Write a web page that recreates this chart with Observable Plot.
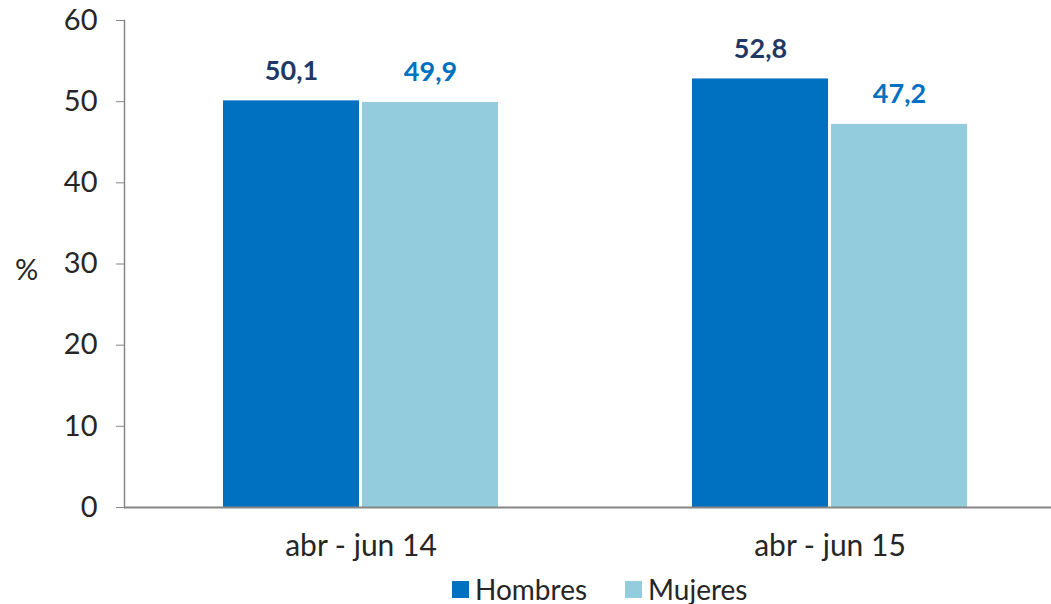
<!DOCTYPE html>
<html>
<head>
<meta charset="utf-8">
<script src="https://cdn.jsdelivr.net/npm/d3@7"></script>
<script src="https://cdn.jsdelivr.net/npm/@observablehq/plot@0.6"></script>
<style>
  html, body { margin: 0; padding: 0; background: white; overflow: hidden; }
  #legend { margin-left: 452px; margin-top: 2px; }
  #legend span { margin-right: 38px !important; }
  #legend span > svg { margin-right: 6px !important; }
</style>
</head>
<body>
<div id="chart"></div>
<div id="legend"></div>
<script>
const periods = ["abr - jun 14", "abr - jun 15"];
const series = ["Hombres", "Mujeres"];
const hombres = [50.1, 52.8];
const mujeres = [49.9, 47.2];
const yTicks = [0, 10, 20, 30, 40, 50, 60];

const barColors = ["#0070C0", "#93CDDD"];
const labelColors = ["#1F3864", "#0070C0"];
const axisGray = "#868686";
const textColor = "#262626";
const fmt = v => v.toFixed(1).replace(".", ",");

const hRows = periods.map((p, i) => ({period: p, value: hombres[i], label: fmt(hombres[i])}));
const mRows = periods.map((p, i) => ({period: p, value: mujeres[i], label: fmt(mujeres[i])}));

const chart = Plot.plot({
  width: 1051,
  height: 570,
  marginLeft: 124,
  marginRight: 0,
  marginTop: 20,
  marginBottom: 63,
  style: {fontFamily: "Lato", fontSize: "29px", color: textColor, background: "white"},
  x: {domain: periods, range: [126, 1064], padding: 0, label: null},
  y: {domain: [0, 60], label: null},
  marks: [
    Plot.barY(hRows, {x: "period", y: "value", fill: barColors[0], insetLeft: 97, insetRight: 236}),
    Plot.barY(mRows, {x: "period", y: "value", fill: barColors[1], insetLeft: 236, insetRight: 97}),
    Plot.text(hRows, {x: "period", y: "value", text: "label", dx: -69.5, dy: -21, lineAnchor: "bottom",
      fill: labelColors[0], fontWeight: "bold", fontSize: 27}),
    Plot.text(mRows, {x: "period", y: "value", text: "label", dx: 69.5, dy: -21, lineAnchor: "bottom",
      fill: labelColors[1], fontWeight: "bold", fontSize: 27}),
    Plot.ruleY([0], {stroke: axisGray, strokeWidth: 2}),
    Plot.frame({anchor: "left", stroke: axisGray, strokeWidth: 1.5}),
    Plot.axisY({ticks: yTicks, tickSize: 8, tickPadding: 19, stroke: axisGray, fill: textColor, fontSize: 29, label: null}),
    Plot.axisX({tickSize: 0, tickPadding: 27, fill: textColor, fontSize: 30, label: null}),
    Plot.text(["%"], {frameAnchor: "left", dx: -98, dy: 7, textAnchor: "middle", fontSize: 29, fill: textColor})
  ]
});
document.getElementById("chart").appendChild(chart);

const legend = Plot.legend({
  color: {type: "ordinal", domain: series, range: barColors},
  swatchSize: 17,
  style: {fontFamily: "Lato", fontSize: "28px", color: textColor}
});
document.getElementById("legend").appendChild(legend);
</script>
</body>
</html>
